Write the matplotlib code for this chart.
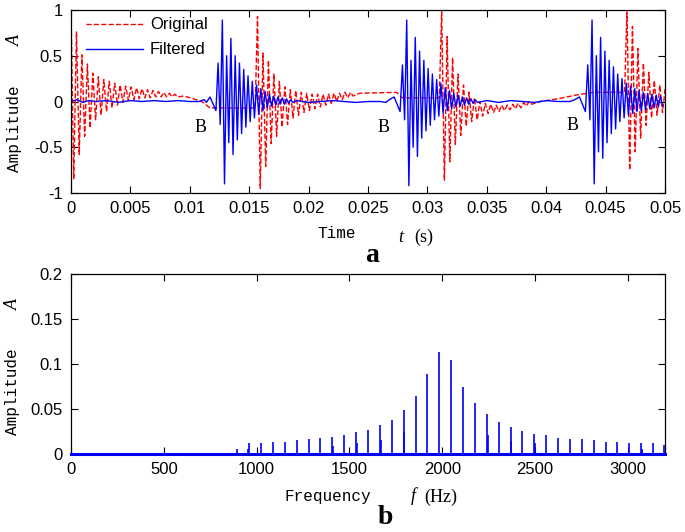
import numpy as np
import matplotlib
matplotlib.use("Agg")
import matplotlib.pyplot as plt
from matplotlib.ticker import FormatStrFormatter, FuncFormatter

plt.rcParams['axes.unicode_minus'] = False
plt.rcParams['font.family'] = ['Liberation Sans', 'DejaVu Sans']

# ---------------- panel a: time signals (peaks) ----------------
RED_HALF = 0.00023    # time between successive peaks of the original signal (s)
BLUE_HALF = 0.00018   # time between successive peaks of the filtered signal (s)

red_onsets = [0.0, 0.0157, 0.0312, 0.0468]
red_burst1 = [1.0, -0.85, 0.76, -0.58, 0.51, -0.38, 0.41, -0.29, 0.31, -0.2,
              0.27, -0.15, 0.24, -0.11, 0.22, -0.07, 0.2, -0.04, 0.18, -0.01,
              0.17, 0.01, 0.16, 0.02, 0.15, 0.03, 0.14, 0.04, 0.13, 0.04,
              0.12, 0.05, 0.11, 0.05, 0.1, 0.05, 0.09, 0.05, 0.08, 0.05]
red_burst2 = [0.93, -0.95, 0.53, -0.71, 0.45, -0.46, 0.3, -0.38, 0.22, -0.28,
              0.16, -0.25, 0.13, -0.18, 0.12, -0.15, 0.1, -0.12, 0.09, -0.1,
              0.08, -0.08, 0.08, -0.06, 0.08, -0.04, 0.08, -0.02, 0.09, 0.0,
              0.09, 0.02, 0.1, 0.04, 0.1, 0.06]
red_burst3 = [0.98, -0.86, 0.71, -0.66, 0.48, -0.47, 0.3, -0.37, 0.18, -0.27,
              0.1, -0.22, 0.04, -0.2, 0.0, -0.16, -0.02, -0.13, -0.03, -0.12,
              -0.04, -0.11, -0.04, -0.1, -0.04, -0.09, -0.03, -0.08, -0.02, -0.07,
              -0.01, -0.05, 0.0, -0.03]
red_burst4 = [1.0, -0.75, 0.82, -0.55, 0.58, -0.4, 0.42, -0.26, 0.32, -0.18,
              0.23, -0.15, 0.18, -0.12, 0.15]
red_quiet_t = [0.0095, 0.0103, 0.0110, 0.0117, 0.0155, 0.0243, 0.0274, 0.0279,
               0.0310, 0.0395, 0.0410, 0.0425, 0.0440, 0.0466]
red_quiet_v = [0.06, 0.03, 0.0, -0.07, -0.07, 0.09, 0.1, 0.04,
               0.04, 0.0, 0.03, 0.07, 0.1, 0.1]

blue_onsets = [0.01238, 0.0279, 0.0435]
blue_burst2 = [0.42, -0.25, 0.89, -0.9, 0.5, -0.45, 0.69, -0.58, 0.5, -0.42,
               0.42, -0.35, 0.35, -0.28, 0.28, -0.22, 0.22, -0.18, 0.18, -0.14,
               0.14, -0.1, 0.11, -0.07, 0.08, -0.05, 0.06, -0.04, 0.05, -0.03,
               0.04, -0.03, 0.03, -0.02, 0.02, -0.01]
blue_burst3 = [0.4, -0.2, 0.89, -0.92, 0.45, -0.5, 0.7, -0.6, 0.55, -0.4,
               0.45, -0.32, 0.36, -0.26, 0.3, -0.2, 0.24, -0.16, 0.2, -0.13,
               0.15, -0.1, 0.12, -0.08, 0.09, -0.06, 0.07, -0.05, 0.05, -0.04,
               0.04, -0.03, 0.03, -0.02, 0.02, -0.01]
blue_burst4 = [0.4, -0.2, 0.89, -0.9, 0.5, -0.55, 0.7, -0.62, 0.55, -0.45,
               0.45, -0.35, 0.38, -0.3, 0.3, -0.22, 0.25, -0.18, 0.2, -0.15,
               0.17, -0.13, 0.14, -0.11, 0.12, -0.1, 0.1, -0.09, 0.09, -0.08,
               0.08, -0.07, 0.07, -0.06, 0.06, -0.05]
blue_quiet_t = [0.0, 0.0005, 0.001, 0.0015, 0.002, 0.003, 0.004, 0.005, 0.006,
                0.007, 0.008, 0.009, 0.010, 0.0108, 0.0112, 0.0114, 0.0117, 0.0122,
                0.019, 0.020, 0.021, 0.022, 0.023, 0.024, 0.025, 0.026, 0.0265,
                0.0268, 0.0272, 0.0277,
                0.035, 0.036, 0.037, 0.038, 0.039, 0.040, 0.041, 0.042, 0.0424,
                0.0428, 0.0433]
blue_quiet_v = [0.0, 0.02, -0.01, 0.01, 0.0, 0.01, -0.01, 0.01, 0.0,
                0.01, 0.0, 0.01, 0.0, 0.0, 0.02, -0.01, 0.05, -0.1,
                0.01, -0.01, 0.0, 0.01, 0.0, -0.01, 0.0, 0.0, -0.01,
                0.02, 0.05, -0.11,
                0.01, -0.01, 0.01, 0.0, -0.01, 0.01, 0.0, 0.0, 0.02,
                0.05, -0.11]

b_labels_t = [0.0109, 0.0263, 0.0422]
b_labels_v = [-0.28, -0.28, -0.26]

# ---------------- panel b: spectrum ----------------
spec_freq = [896, 960, 1024, 1088, 1152, 1216, 1280, 1344, 1408, 1472,
             1536, 1600, 1664, 1728, 1792, 1856, 1920, 1984, 2048, 2112,
             2176, 2240, 2304, 2368, 2432, 2496, 2560, 2624, 2688, 2752,
             2816, 2880, 2944, 3008, 3072, 3136, 3196]
spec_amp = [0.0056, 0.0119, 0.0119, 0.0137, 0.0137, 0.0152, 0.0167, 0.0181, 0.0193, 0.0215,
            0.024, 0.027, 0.032, 0.038, 0.0485, 0.0644, 0.0889, 0.1133, 0.1044, 0.0748,
            0.0563, 0.0441, 0.0352, 0.0304, 0.0259, 0.0226, 0.0215, 0.0181, 0.0167, 0.0167,
            0.0152, 0.0133, 0.0133, 0.0119, 0.0119, 0.0119, 0.0096]
side_freq = [952, 1414, 1542, 1668, 1796, 2244, 2372, 2500, 3076]
side_amp = [0.0056, 0.0093, 0.0118, 0.016, 0.024, 0.021, 0.014, 0.012, 0.006]


def build_series(onsets, bursts, half, quiet_t, quiet_v):
    t = list(quiet_t)
    v = list(quiet_v)
    for t0, peaks in zip(onsets, bursts):
        t.extend(t0 + half * np.arange(len(peaks)))
        v.extend(peaks)
    order = np.argsort(t)
    return np.asarray(t)[order], np.asarray(v)[order]


red_t, red_v = build_series(red_onsets, [red_burst1, red_burst2, red_burst3, red_burst4],
                            RED_HALF, red_quiet_t, red_quiet_v)
blue_t, blue_v = build_series(blue_onsets, [blue_burst2, blue_burst3, blue_burst4],
                              BLUE_HALF, blue_quiet_t, blue_quiet_v)

W, H = 685, 532
fig = plt.figure(figsize=(W / 100, H / 100), dpi=100)


def fx(x):
    return x / W


def fy(y):
    return 1 - y / H


ax1 = fig.add_axes([fx(71), fy(193), fx(665) - fx(71), fy(10) - fy(193)])
ax2 = fig.add_axes([fx(71), fy(454), fx(665) - fx(71), fy(274) - fy(454)])

ax1.plot(red_t, red_v, color='red', ls='--', lw=1.0, label='Original')
ax1.plot(blue_t, blue_v, color='blue', lw=1.0, label='Filtered')
ax1.set_xlim(0, 0.05)
ax1.set_ylim(-1, 1)
ax1.set_xticks(np.arange(0, 0.0501, 0.005))
ax1.set_yticks([-1, -0.5, 0, 0.5, 1])
ax1.xaxis.set_major_formatter(FuncFormatter(lambda v, p: '%g' % round(v, 4)))
ax1.yaxis.set_major_formatter(FormatStrFormatter('%g'))
ax1.legend(loc='upper left', bbox_to_anchor=(0.012, 1.005), frameon=False,
           fontsize=12, handlelength=3.4, handletextpad=0.4, labelspacing=0.6,
           borderaxespad=0.1)
for bt, bv in zip(b_labels_t, b_labels_v):
    ax1.text(bt, bv, 'B', family='Liberation Serif', fontsize=13,
             ha='center', va='center')

ax2.vlines(spec_freq, 0, spec_amp, color='blue', lw=1.2)
ax2.vlines(side_freq, 0, side_amp, color='blue', lw=1.2)
ax2.axhline(0, color='blue', lw=2.2, zorder=5, clip_on=False)
ax2.set_xlim(0, 3200)
ax2.set_ylim(0, 0.2)
ax2.set_xticks(np.arange(0, 3001, 500))
ax2.set_yticks([0, 0.05, 0.1, 0.15, 0.2])
ax2.yaxis.set_major_formatter(FormatStrFormatter('%g'))

for ax in (ax1, ax2):
    ax.tick_params(direction='in', top=True, right=True, length=5, width=0.8,
                   labelsize=12, pad=6)
    for s in ax.spines.values():
        s.set_linewidth(0.9)

mono = 'Liberation Mono'
serif = 'Liberation Serif'
fig.text(fx(15), fy(41), 'A', family=serif, style='italic', fontsize=13,
         rotation=90, ha='center', va='center')
fig.text(fx(15), fy(129), 'Amplitude', family=mono, fontsize=11.5,
         rotation=90, ha='center', va='center')
fig.text(fx(13), fy(304), 'A', family=serif, style='italic', fontsize=13,
         rotation=90, ha='center', va='center')
fig.text(fx(13), fy(392), 'Amplitude', family=mono, fontsize=11.5,
         rotation=90, ha='center', va='center')

fig.text(fx(337), fy(234), 'Time', family=mono, fontsize=11.5, ha='center', va='center')
fig.text(fx(401), fy(237), 't', family=serif, style='italic', fontsize=13,
         ha='center', va='center')
fig.text(fx(424), fy(237), '(s)', family=serif, fontsize=13, ha='center', va='center')
fig.text(fx(372), fy(256), 'a', family=serif, weight='bold', fontsize=20,
         ha='center', va='center')

fig.text(fx(328), fy(497), 'Frequency', family=mono, fontsize=11.5, ha='center', va='center')
fig.text(fx(413), fy(496), 'f', family=serif, style='italic', fontsize=13,
         ha='center', va='center')
fig.text(fx(441), fy(497), '(Hz)', family=serif, fontsize=13, ha='center', va='center')
fig.text(fx(385), fy(518), 'b', family=serif, weight='bold', fontsize=20,
         ha='center', va='center')

fig.savefig('out.png', dpi=100)
